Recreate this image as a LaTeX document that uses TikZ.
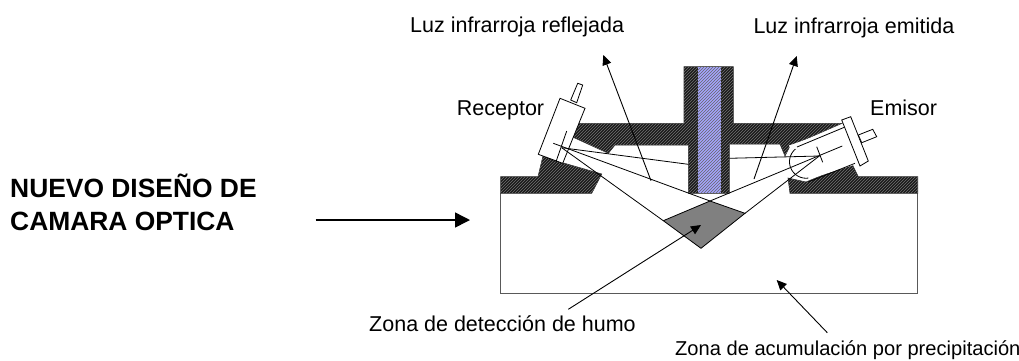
\documentclass[tikz,border=0pt]{standalone}
\usepackage{fontspec}
\setmainfont{Liberation Sans}
\usetikzlibrary{patterns,arrows.meta}
\definecolor{hatchdark}{gray}{0.1}
\definecolor{tubeblue}{RGB}{165,165,255}
\tikzset{
  x=1pt,y=-1pt,
  body/.style={fill=hatchdark,draw=black!80,line width=0.6pt,postaction={pattern=north east lines,pattern color=black!55}},
  ln/.style={draw=black,line width=0.8pt},
  boxln/.style={draw=black!65,line width=1.1pt},
  arr/.style={draw=black,line width=0.9pt,-{Triangle[length=10pt,width=9pt]}},
  thick arr/.style={draw=black,line width=1.5pt,-{Triangle[length=15pt,width=15pt]}},
  lab/.style={font=\fontsize{21.5pt}{24pt}\selectfont,inner sep=0pt,anchor=base west},
  lowlab/.style={font=\fontsize{20.1pt}{24pt}\selectfont,inner sep=0pt,anchor=base west},
  big/.style={font=\fontsize{26.4pt}{30pt}\selectfont\bfseries,inner sep=0pt,anchor=base west},
}
\begin{document}
\begin{tikzpicture}
\useasboundingbox (0,0) rectangle (1019,360);
\fill[white] (0,0) rectangle (1019,360);
% box
\coordinate (bl) at (500.7,193.3);
\coordinate (br) at (917.7,193.3);
\coordinate (bbl) at (500.7,293.3);
\coordinate (bbr) at (917.7,293.3);
\draw[boxln] (bl) -- (bbl) -- (bbr) -- (br);
% flanges and block
\path[body] (500.7,176.7) -- (500.7,193.3) -- (591.7,193.3) -- (601.7,174) -- (560,162) -- (543,156) -- (538,176.7) -- cycle;
\path[body] (579,123.3) -- (684,123.3) -- (684,66.7) -- (733.3,66.7) -- (733.3,123.3) -- (842,123.3) -- (790,146) -- (785,156) -- (780,144) -- (729.3,144) -- (729.3,193.3) -- (688.3,193.3) -- (688.3,145) -- (615,145) -- (608.3,153.3) -- (573.3,137.3) -- cycle;
\path[body] (790,193.3) -- (917.7,193.3) -- (917.7,176.7) -- (858.3,176.7) -- (851.7,163.3) -- (806,182) -- (788,178) -- cycle;
\path[fill=tubeblue] (697.7,66.7) rectangle (721,193.3);
\path[pattern=north east lines,pattern color=black!60] (697.7,66.7) rectangle (721,193.3);
% smoke zone
\path[fill=black!50,draw=black,line width=0.8pt] (663.3,220.7) -- (710,201) -- (745,213.3) -- (701,248.3) -- cycle;
% receiver
\draw[ln,fill=white] (560,98.3) -- (585,108.3) -- (562.7,163.3) -- (538.3,154.3) -- cycle;
\draw[ln,fill=white] (577.7,83.3) -- (582.7,85) -- (576.7,102.7) -- (570.7,100) -- cycle;
\draw[ln] (566.7,131) -- (556,161.7);
% emitter
\fill[white] (843,126.5) -- (789,145.5) -- (803,181) -- (860,163) -- cycle;
\draw[ln] (845.7,126.7) -- (797,147);
\draw[ln] (855,163.3) -- (808,182);
\draw[ln] plot[domain=82:230,samples=30] ({806+16.5*cos(\x)},{161.7+16.5*sin(\x)});
\draw[ln,fill=white] (841.7,120) -- (850.7,116.7) -- (868.3,161) -- (860,166) -- cycle;
\draw[ln,fill=white] (872.7,129.3) -- (876.7,136.7) -- (861.7,142.7) -- (858.3,135) -- cycle;
\draw[ln] (816.7,146.7) -- (822.7,162.3);
% rays
\coordinate (rf) at (561.7,147.7);
\coordinate (ef) at (819.3,156);
\draw[ln] (rf) -- (688.3,164.3);
\draw[ln] (553.3,143.3) -- (710,201);
\draw[ln] (rf) -- (663.3,220.7);
\draw[ln] (ef) -- (729.3,158.3);
\draw[ln] (842.3,146) -- (710,201);
\draw[ln] (ef) -- (745,213.3);
% arrows
\coordinate (a1s) at (651,180.7); \coordinate (a1e) at (603.3,55);
\coordinate (a2s) at (754,179); \coordinate (a2e) at (796.7,56);
\draw[arr] (a1s) -- (a1e);
\draw[arr] (a2s) -- (a2e);
\coordinate (a3s) at (315.7,220); \coordinate (a3e) at (470,220);
\draw[thick arr] (a3s) -- (a3e);
\coordinate (a4s) at (568.3,309.3); \coordinate (a4e) at (701,225);
\draw[arr] (a4s) -- (a4e);
\coordinate (a5s) at (827.3,332.7); \coordinate (a5e) at (776.7,280);
\draw[arr] (a5s) -- (a5e);
% labels
\node[lab] (t1) at (410,32.5) {Luz infrarroja reflejada};
\node[lab] (t2) at (753.3,33) {Luz infrarroja emitida};
\node[lab] (t3) at (456.7,115) {Receptor};
\node[lab] (t4) at (870,115) {Emisor};
\node[big] (t5) at (10,197.3) {NUEVO DISEÑO DE};
\node[big] (t6) at (10,230) {CAMARA OPTICA};
\node[lab] (t7) at (369,331.7) {Zona de detección de humo};
\node[lowlab] (t8) at (675,355.5) {Zona de acumulación por precipitación};
\end{tikzpicture}
\end{document}
